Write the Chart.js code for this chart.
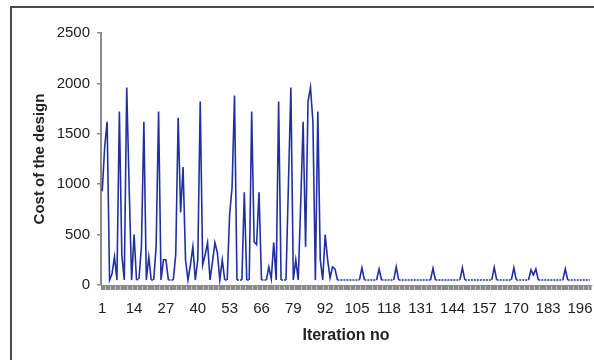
<!DOCTYPE html>
<html>
<head>
<meta charset="utf-8">
<script src="https://cdn.jsdelivr.net/npm/chart.js@4.4.1/dist/chart.umd.min.js"></script>
<style>
    html, body { margin: 0; padding: 0; background: #fff; overflow: hidden; }
    #frame { position: absolute; left: 10px; top: 6px; width: 640px; height: 400px; border: 2px solid #4a4a4a; }
    #wrap { position: absolute; left: 0; top: 0; width: 594px; height: 360px; }
</style>
</head>
<body>
<div id="frame"></div>
<div id="wrap"><canvas id="cost-chart"></canvas></div>
<script>
// iteration numbers 1..200
const iterations = [];
for (let i = 1; i <= 200; i++) iterations.push(i);

// labels Excel printed on the category axis
const shownLabels = [1, 14, 27, 40, 53, 66, 79, 92, 105, 118, 131, 144, 157, 170, 183, 196];

const yTicks = [0, 500, 1000, 1500, 2000, 2500];

// cost of the design per iteration
const cost = [
    930, 1370, 1620, 50, 110, 280, 50, 1720, 300, 50,
    1960, 960, 50, 500, 50, 60, 380, 1620, 50, 280,
    50, 50, 380, 1720, 50, 250, 250, 50, 50, 50,
    300, 1660, 720, 1170, 250, 50, 200, 380, 50, 250,
    1820, 200, 300, 420, 50, 230, 420, 320, 50, 250,
    50, 50, 700, 970, 1880, 50, 50, 50, 920, 50,
    50, 1720, 430, 400, 920, 50, 50, 50, 180, 60,
    420, 50, 1820, 50, 50, 50, 1000, 1960, 50, 250,
    50, 800, 1620, 380, 1820, 1960, 1620, 50, 1720, 250,
    50, 500, 250, 70, 180, 160, 50, 50, 50, 50,
    50, 50, 50, 50, 50, 50, 170, 50, 50, 50,
    50, 50, 50, 160, 50, 50, 50, 50, 50, 50,
    180, 50, 50, 50, 50, 50, 50, 50, 50, 50,
    50, 50, 50, 50, 50, 165, 50, 50, 50, 50,
    50, 50, 50, 50, 50, 50, 50, 170, 50, 50,
    50, 50, 50, 50, 50, 50, 50, 50, 50, 50,
    175, 50, 50, 50, 50, 50, 50, 50, 170, 50,
    50, 50, 50, 50, 50, 150, 100, 160, 50, 50,
    50, 50, 50, 50, 50, 50, 50, 50, 50, 160,
    50, 50, 50, 50, 50, 50, 50, 50, 50, 50
];

const axisGray = '#8a8a8a';
const textColor = '#222';
const fontFamily = '"Liberation Sans", Arial, sans-serif';

new Chart(document.getElementById('cost-chart'), {
    type: 'line',
    data: {
        labels: iterations,
        datasets: [{
            label: 'Cost',
            data: cost,
            borderColor: '#1f30a3',
            borderWidth: 1.6,
            pointRadius: 0,
            tension: 0,
            fill: false,
            segment: {
                // flat runs at the floor look dotted in the original
                borderDash: ctx => (ctx.p0.parsed.y <= 60 && ctx.p1.parsed.y <= 60) ? [2, 1] : undefined
            }
        }]
    },
    options: {
        responsive: true,
        maintainAspectRatio: false,
        animation: false,
        layout: {
            padding: { top: 33, right: 3, left: 0, bottom: 0 }
        },
        plugins: {
            legend: { display: false },
            tooltip: { enabled: false }
        },
        scales: {
            x: {
                type: 'category',
                offset: true,
                afterFit: scale => {
                    scale.height = 75;
                    scale.paddingRight = 0;
                    scale.paddingLeft = 0;
                },
                grid: {
                    display: true,
                    drawOnChartArea: false,
                    drawTicks: true,
                    tickLength: 5,
                    color: axisGray,
                    lineWidth: 2.5
                },
                border: { display: true, color: axisGray, width: 1 },
                ticks: {
                    autoSkip: false,
                    maxRotation: 0,
                    padding: 10,
                    color: textColor,
                    font: { family: fontFamily, size: 15 },
                    callback: function (val, index) {
                        const lbl = iterations[index];
                        return shownLabels.includes(lbl) ? String(lbl) : '';
                    }
                },
                title: {
                    display: true,
                    text: 'Iteration no',
                    color: textColor,
                    font: { family: fontFamily, size: 16, weight: 'bold' },
                    padding: { top: 0, bottom: 15 }
                }
            },
            y: {
                min: 0,
                max: 2500,
                afterFit: scale => { scale.width = 101; },
                afterBuildTicks: scale => {
                    scale.ticks = yTicks.map(v => ({ value: v }));
                },
                grid: {
                    display: true,
                    drawOnChartArea: false,
                    drawTicks: true,
                    tickLength: 4,
                    color: axisGray,
                    lineWidth: 1.5
                },
                border: { display: true, color: axisGray, width: 2 },
                ticks: {
                    padding: 7,
                    color: textColor,
                    font: { family: fontFamily, size: 15 },
                    callback: v => String(v)
                },
                title: {
                    display: true,
                    text: 'Cost of the design',
                    color: textColor,
                    font: { family: fontFamily, size: 15, weight: 'bold' },
                    padding: { top: 31, bottom: 0 }
                }
            }
        }
    }
});
</script>
</body>
</html>
